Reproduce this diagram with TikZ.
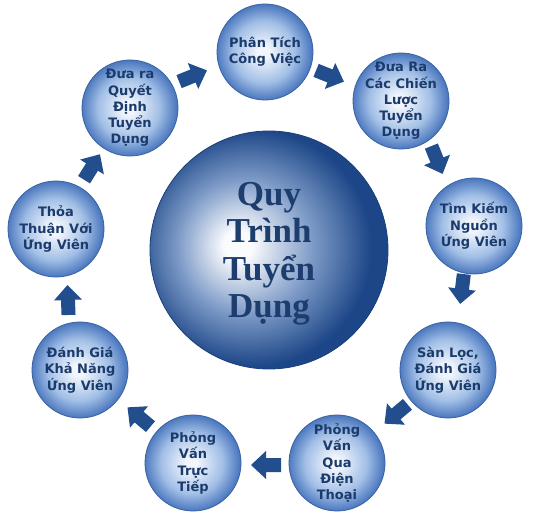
\documentclass[tikz,border=0pt]{standalone}
\usepackage{fontspec}
\newfontfamily\stepfont{DejaVu Sans}
\newfontfamily\titlefont{Liberation Serif}
\definecolor{sbC}{HTML}{F2F6FC}
\definecolor{sbM}{HTML}{A2BFE6}
\definecolor{sbE}{HTML}{4A77BE}
\definecolor{sbB}{HTML}{3A62A2}
\definecolor{bbC}{HTML}{FAFBFD}
\definecolor{bbM}{HTML}{7F9CC8}
\definecolor{bbE}{HTML}{1C4687}
\definecolor{bbB}{HTML}{1A3F78}
\definecolor{txt}{HTML}{1B3B6D}
\definecolor{ctxt}{HTML}{1D3D6E}
\definecolor{arr}{HTML}{224E8E}
\pgfdeclareradialshading{smallball}{\pgfpoint{-1bp}{0bp}}{color(0bp)=(sbC); color(3bp)=(sbC); color(16bp)=(sbM); color(25bp)=(sbE); color(50bp)=(sbE)}
\pgfdeclareradialshading{bigball}{\pgfpoint{-7bp}{1bp}}{color(0bp)=(bbC); color(3bp)=(bbC); color(14bp)=(bbM); color(25bp)=(bbE); color(50bp)=(bbE)}
\tikzset{
  ball/.style={circle, minimum size=96pt, inner sep=0pt, draw=sbB, line width=0.8pt, shading=smallball},
  bigballstyle/.style={circle, minimum size=238pt, inner sep=0pt, draw=bbB, line width=0.8pt, shading=bigball},
  steptext/.style={text=txt, align=center, inner sep=0pt, font=\stepfont\bfseries\fontsize{13}{16.3}\selectfont},
  centertext/.style={text=ctxt, align=center, inner sep=0pt, font=\titlefont\bfseries\fontsize{35}{37.5}\selectfont},
  blockarrow/.pic={\fill[arr] (-15,-7) -- (0,-7) -- (0,-14) -- (15,0) -- (0,14) -- (0,7) -- (-15,7) -- cycle;}
}
\begin{document}
\begin{tikzpicture}[x=1pt,y=-1pt]
\fill[white] (0,0) rectangle (552,521);
\useasboundingbox (0,0) rectangle (552,521);
% central circle
\node[bigballstyle] (center) at (269,250) {};
\node[centertext] (title) at (269,254) {Quy\\Trình\\Tuyển\\Dụng};
% step circles
\node[ball] (c1) at (265,52) {};
\node[ball] (c2) at (401,101) {};
\node[ball] (c3) at (474,226) {};
\node[ball] (c4) at (448,370) {};
\node[ball] (c5) at (337,463) {};
\node[ball] (c6) at (193,463) {};
\node[ball] (c7) at (80,370) {};
\node[ball] (c8) at (56,229) {};
\node[ball] (c9) at (130,108) {};
\node[steptext] (t1) at (c1) {Phân Tích\\Công Việc};
\node[steptext] (t2) at (c2) {Đưa Ra\\Các Chiến\\Lược\\Tuyển\\Dụng};
\node[steptext] (t3) at (c3) {Tìm Kiếm\\Nguồn\\Ứng Viên};
\node[steptext] (t4) at (c4) {Sàn Lọc,\\Đánh Giá\\Ứng Viên};
\node[steptext] (t5) at (c5) {Phỏng\\Vấn\\Qua\\Điện\\Thoại};
\node[steptext] (t6) at (c6) {Phỏng\\Vấn\\Trực\\Tiếp};
\node[steptext] (t7) at (c7) {Đánh Giá\\Khả Năng\\Ứng Viên};
\node[steptext] (t8) at (c8) {Thỏa\\Thuận Với\\Ứng Viên};
\node[steptext] (t9) at (c9) {Đưa ra\\Quyết\\Định\\Tuyển\\Dụng};
% block arrows
\pic[rotate=22] (a1) at (193,76) {blockarrow};
\pic[rotate=-22] (a2) at (330,76) {blockarrow};
\pic[rotate=-68] (a3) at (437,160) {blockarrow};
\pic[rotate=-97] (a4) at (462,289) {blockarrow};
\pic[rotate=-140] (a5) at (396,414) {blockarrow};
\pic[rotate=180] (a6) at (266,465) {blockarrow};
\pic[rotate=140] (a7) at (139,417) {blockarrow};
\pic[rotate=92] (a8) at (68,300) {blockarrow};
\pic[rotate=58] (a9) at (92,167) {blockarrow};
\end{tikzpicture}
\end{document}
